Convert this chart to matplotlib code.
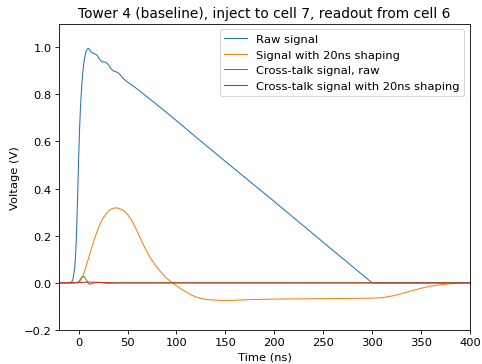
import matplotlib
matplotlib.use("Agg")
import matplotlib.pyplot as plt

# Raw signal (injected cell)
t_raw = [-20, -8, -6, -4, -3, -2, -1, 0, 1, 2, 3, 4, 5, 6, 7, 8, 9, 10, 11, 12, 13, 14,
         15, 16, 17, 18, 19, 20, 22, 24, 26, 28, 30, 32, 34, 36, 38, 40, 42, 44, 46,
         50, 60, 70, 80, 100, 120, 150, 200, 250, 300, 400]
v_raw = [0, 0, 0.01, 0.06, 0.12, 0.22, 0.36, 0.52, 0.65, 0.75, 0.82, 0.88, 0.92, 0.95,
         0.97, 0.985, 0.992, 0.995, 0.99, 0.985, 0.978, 0.975, 0.975, 0.972, 0.97, 0.968,
         0.965, 0.958, 0.945, 0.938, 0.937, 0.935, 0.928, 0.915, 0.905, 0.898, 0.895,
         0.893, 0.885, 0.875, 0.865, 0.852, 0.822, 0.789, 0.756, 0.688, 0.618, 0.515,
         0.345, 0.172, 0.0, 0.0]

# Signal with 20ns shaping
t_sh = [-20, -6, -2, 0, 2, 4, 6, 8, 10, 12, 14, 16, 18, 20, 22, 24, 26, 28, 30, 32, 34,
        36, 38, 41, 44, 47, 50, 53, 56, 59, 62, 65, 68, 71, 74, 77, 80, 83, 86, 89, 92,
        95, 98, 101, 104, 108, 112, 116, 120, 124, 130, 138, 150, 160, 175, 200, 250,
        280, 300, 310, 320, 330, 340, 350, 360, 370, 380, 390, 400]
v_sh = [0, 0, 0.001, 0.003, 0.01, 0.025, 0.048, 0.075, 0.102, 0.13, 0.157, 0.183, 0.207,
        0.229, 0.249, 0.266, 0.28, 0.292, 0.302, 0.309, 0.314, 0.317, 0.318, 0.316, 0.311,
        0.303, 0.29, 0.273, 0.251, 0.226, 0.199, 0.172, 0.147, 0.123, 0.102, 0.083, 0.066,
        0.051, 0.037, 0.024, 0.013, 0.003, -0.006, -0.015, -0.024, -0.034, -0.044, -0.053,
        -0.06, -0.065, -0.07, -0.073, -0.075, -0.074, -0.071, -0.069, -0.067, -0.066,
        -0.065, -0.063, -0.056, -0.046, -0.034, -0.023, -0.014, -0.008, -0.004, -0.001, 0.0]

# Cross-talk signal, raw
t_xt = [-20, -2, 0, 2, 4, 5, 6, 8, 10, 11, 13, 16, 20, 25, 30, 40, 400]
v_xt = [0, 0, 0.005, 0.016, 0.025, 0.027, 0.025, 0.012, -0.003, -0.006, -0.004, 0.0,
        0.002, 0.0, -0.002, 0.0, 0.0]

# Cross-talk signal with 20ns shaping
t_xs = [-20, 0, 10, 20, 40, 400]
v_xs = [0, 0.001, 0.003, 0.002, 0.0, 0.0]

plt.rcParams["font.size"] = 11

fig = plt.figure(figsize=(482 / 75, 365 / 75), dpi=75)
ax = fig.add_axes([59 / 482, 1 - 331 / 365, (470 - 59) / 482, (331 - 24.5) / 365])

lw = 1.0
ax.plot(t_raw, v_raw, color="C0", lw=lw, label="Raw signal")
ax.plot(t_sh, v_sh, color="C1", lw=lw, label="Signal with 20ns shaping")
ax.plot(t_xt, v_xt, color="C2", lw=lw, label="Cross-talk signal, raw")
ax.plot(t_xs, v_xs, color="C3", lw=lw, label="Cross-talk signal with 20ns shaping")

ax.set_xlim(-20, 400)
ax.set_ylim(-0.2, 1.1)
ax.set_xticks([0, 50, 100, 150, 200, 250, 300, 350, 400])
ax.set_yticks([-0.2, 0.0, 0.2, 0.4, 0.6, 0.8, 1.0])
ax.set_xlabel("Time (ns)")
ax.set_ylabel("Voltage (V)")
ax.set_title("Tower 4 (baseline), inject to cell 7, readout from cell 6")
ax.legend(loc="upper right")

fig.savefig("out.png", dpi=75)
